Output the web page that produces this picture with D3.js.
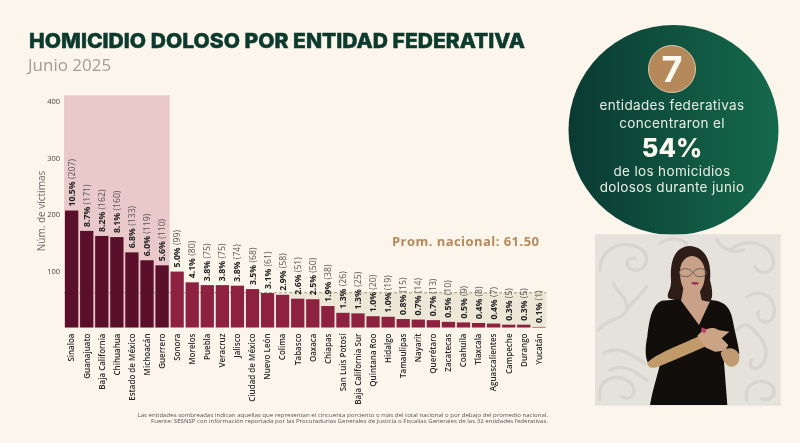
<!DOCTYPE html>
<html>
<head>
<meta charset="utf-8">
<script src="https://cdn.jsdelivr.net/npm/d3@7"></script>
<style>
  html, body { margin: 0; padding: 0; background: #fbf5ec; overflow: hidden; }
  svg { display: block; filter: blur(0.35px); }
  text { font-family: "Open Sans", sans-serif; }
  .panel text { font-family: Inter, sans-serif; }
</style>
</head>
<body>
<div id="chart"></div>
<script>
const states = ["Sinaloa", "Guanajuato", "Baja California", "Chihuahua", "Estado de México", "Michoacán", "Guerrero",
  "Sonora", "Morelos", "Puebla", "Veracruz", "Jalisco", "Ciudad de México", "Nuevo León", "Colima", "Tabasco",
  "Oaxaca", "Chiapas", "San Luis Potosí", "Baja California Sur", "Quintana Roo", "Hidalgo", "Tamaulipas", "Nayarit",
  "Querétaro", "Zacatecas", "Coahuila", "Tlaxcala", "Aguascalientes", "Campeche", "Durango", "Yucatán"];
const victims = [207, 171, 162, 160, 133, 119, 110, 99, 80, 75, 75, 74, 68, 61, 58, 51, 50, 38, 26, 25, 20, 19, 15, 14, 13, 10, 9, 8, 7, 5, 5, 1];
const shares = ["10.5%", "8.7%", "8.2%", "8.1%", "6.8%", "6.0%", "5.6%", "5.0%", "4.1%", "3.8%", "3.8%", "3.8%", "3.5%", "3.1%", "2.9%", "2.6%",
  "2.5%", "1.9%", "1.3%", "1.3%", "1.0%", "1.0%", "0.8%", "0.7%", "0.7%", "0.5%", "0.5%", "0.4%", "0.4%", "0.3%", "0.3%", "0.1%"];
const yTicks = [100, 200, 300, 400];
const nationalMean = 61.5;
const topCount = 7;       // states that add up to 54%
const belowFrom = "Tabasco"; // first state under the national mean
const panelLines = ["entidades federativas", "concentraron el", "de los homicidios", "dolosos durante junio"];
const footnotes = [
  "Las entidades sombreadas indican aquellas que representan el cincuenta porciento o más del total nacional o por debajo del promedio nacional.",
  "Fuente: SESNSP con información reportada por las Procuradurías Generales de Justicia o Fiscalías Generales de las 32 entidades federativas."
];

const svg = d3.select("#chart").append("svg").attr("width", 800).attr("height", 443);
svg.append("rect").attr("width", 800).attr("height", 443).attr("fill", "#fbf5ec");

const x = d3.scaleBand().domain(states).range([63.2, 547.3]).paddingInner(0.12).paddingOuter(0.12);
const y = d3.scaleLinear().domain([0, 400]).range([327.5, 101.5]);

// title
svg.append("text").attr("x", 29).attr("y", 47.5).attr("fill", "#0c3b2e").attr("stroke", "#0c3b2e").attr("stroke-width", 0.5)
  .style("font-family", "Inter, sans-serif").style("font-weight", 800).style("font-size", "20.5px")
  .attr("textLength", 496).attr("lengthAdjust", "spacingAndGlyphs")
  .text("HOMICIDIO DOLOSO POR ENTIDAD FEDERATIVA");
svg.append("text").attr("x", 28).attr("y", 71).attr("fill", "#a39c93").style("font-size", "17px").text("Junio 2025");

// shaded zones
const step = x.step();
const pad = (step - x.bandwidth()) / 2;
svg.append("rect")
  .attr("x", x(states[0]) - pad).attr("y", y(411))
  .attr("width", x(states[topCount - 1]) + x.bandwidth() + pad - x(states[0]) + pad)
  .attr("height", y(0) - y(411)).attr("fill", "#e9c9ca");
svg.append("rect")
  .attr("x", x(belowFrom) - pad).attr("y", y(nationalMean))
  .attr("width", x(states[states.length - 1]) + x.bandwidth() + pad - x(belowFrom) + pad)
  .attr("height", y(0) - y(nationalMean)).attr("fill", "#ece7d6");

// mean line, behind the bars
svg.append("line")
  .attr("x1", x(states[0]) - pad).attr("x2", x(states[states.length - 1]) + x.bandwidth() + pad)
  .attr("y1", y(nationalMean)).attr("y2", y(nationalMean))
  .attr("stroke", "#a3967a").attr("stroke-width", 1).attr("stroke-dasharray", "3,2");

// bars
svg.append("g").selectAll("rect").data(states).join("rect")
  .attr("x", d => x(d))
  .attr("y", (d, i) => y(victims[i]))
  .attr("width", x.bandwidth())
  .attr("height", (d, i) => y(0) - y(victims[i]))
  .attr("fill", (d, i) => i < topCount ? "#5a0f2b" : "#8f2140");

svg.append("text").attr("x", 392).attr("y", 245.5).attr("fill", "#b5895a")
  .style("font-size", "13px").style("font-weight", 700).style("letter-spacing", "0.45px")
  .text("Prom. nacional: 61.50");

// axes
const yAxis = svg.append("g").attr("transform", "translate(61,0)")
  .call(d3.axisLeft(y).tickValues(yTicks).tickSize(0).tickPadding(1));
yAxis.select(".domain").remove();
yAxis.selectAll("text").attr("fill", "#444").style("font-size", "7.5px").style("font-family", "'Open Sans', sans-serif");
svg.append("text").attr("transform", "translate(44.5,211) rotate(-90)").attr("text-anchor", "middle")
  .attr("fill", "#6b6b6b").style("font-size", "10px").text("Núm. de víctimas");

const xAxis = svg.append("g").attr("transform", "translate(0,327.5)")
  .call(d3.axisBottom(x).tickSize(0));
xAxis.select(".domain").remove();
xAxis.selectAll("text")
  .attr("transform", "rotate(-90)").attr("text-anchor", "end")
  .attr("x", -6).attr("y", 0).attr("dy", "0.35em")
  .attr("fill", "#2a2a2a").style("font-size", "8px").style("font-weight", 600)
  .style("font-family", "'Open Sans', sans-serif");

// value labels
const labels = svg.append("g").selectAll("text").data(states).join("text")
  .attr("transform", (d, i) => `translate(${x(d) + x.bandwidth() / 2},${y(victims[i]) - 4}) rotate(-90)`)
  .attr("dy", "0.35em").style("font-size", "8.7px");
labels.append("tspan").attr("fill", "#222").style("font-weight", 700).text((d, i) => shares[i]);
labels.append("tspan").attr("fill", "#5a5652").text((d, i) => ` (${victims[i]})`);

// footnote
svg.append("g").selectAll("text").data(footnotes).join("text")
  .attr("x", 548).attr("y", (d, i) => 416.5 + i * 6.6).attr("text-anchor", "end")
  .attr("fill", "#555").style("font-size", "6.1px").text(d => d);

// panel with the 54% call-out
const grad = svg.append("defs").append("linearGradient").attr("id", "panelFill");
grad.append("stop").attr("offset", "0%").attr("stop-color", "#0a3a32");
grad.append("stop").attr("offset", "100%").attr("stop-color", "#156a4c");
const panel = svg.append("g").attr("class", "panel");
panel.append("circle").attr("cx", 673.5).attr("cy", 130).attr("r", 105).attr("fill", "url(#panelFill)");
panel.append("circle").attr("cx", 672).attr("cy", 69).attr("r", 23.5).attr("fill", "#b5895a").attr("stroke", "#d8c6ae").attr("stroke-width", 1);
panel.append("text").attr("x", 672).attr("y", 82).attr("text-anchor", "middle").attr("fill", "#fdf8f0")
  .style("font-size", "36px").style("font-weight", 700).text("7");
panel.append("text").attr("x", 672).attr("y", 156.5).attr("text-anchor", "middle").attr("fill", "#fdf8f0")
  .style("font-size", "25.5px").style("font-weight", 800).text("54%");
panel.selectAll("text.line").data(panelLines).join("text").attr("class", "line")
  .attr("x", 672).attr("y", (d, i) => [110, 127.5, 175.5, 192][i]).attr("text-anchor", "middle")
  .attr("fill", "#e9ece4").style("font-size", "13.5px").style("letter-spacing", "0.35px").text(d => d);

// sign language interpreter (drawn in zoomed crop coordinates)
const signer = svg.append("g").attr("transform", "translate(590,230) scale(0.3333)");
signer.append("rect").attr("x", 15).attr("y", 13).attr("width", 557).attr("height", 514).attr("fill", "#e5e2db");
const swirls = [
  "M30,120 C30,60 90,30 140,50 C190,70 170,130 130,120 C100,110 110,80 135,85",
  "M25,300 C60,260 100,270 110,240 C115,200 80,190 70,160 M110,240 C130,210 150,200 170,170",
  "M30,510 C20,450 70,430 110,450 C150,470 130,520 95,500",
  "M40,370 C90,340 130,380 165,400 M60,420 C100,400 130,420 170,450",
  "M420,60 C470,20 540,40 550,90 C555,130 510,140 495,110",
  "M470,200 C520,170 565,210 550,260 C535,290 495,275 505,245",
  "M440,300 C470,270 480,290 500,310 C530,340 540,380 510,410 C490,425 470,405 485,390",
  "M470,510 C460,460 510,440 545,465 C565,490 540,520 515,505",
  "M210,40 C240,20 270,25 290,40 M380,30 C400,60 430,70 460,60"
];
signer.append("g").selectAll("path").data(swirls).join("path").attr("d", d => d)
  .attr("fill", "none").attr("stroke", "#d8d5cd").attr("stroke-width", 10).attr("stroke-linecap", "round");
signer.append("path").attr("fill", "#2e1d16")
  .attr("d", "M300,48 C250,50 240,100 243,150 C245,180 228,190 235,205 L275,215 L360,215 C372,200 365,170 360,150 C365,100 350,52 300,48 Z");
signer.append("path").attr("fill", "#c9a088")
  .attr("d", "M275,205 L280,175 C265,140 262,85 305,78 C345,80 352,130 340,165 L330,185 L335,210 L362,218 L327,285 L270,220 Z");
signer.append("path").attr("fill", "#120e0b")
  .attr("d", "M270,208 L327,285 L362,210 C395,212 420,225 428,270 C435,310 445,340 448,372 L410,360 L400,370 L412,525 L180,525 C190,470 205,430 210,400 L175,400 C165,385 165,350 172,320 C178,270 185,225 215,212 Z");
signer.append("path").attr("fill", "#c09a68")
  .attr("d", "M172,398 C200,370 270,345 328,318 L345,350 C300,370 240,395 200,412 C185,417 172,410 172,398 Z");
signer.append("path").attr("fill", "#c09a70")
  .attr("d", "M392,368 C410,350 435,350 447,372 C452,395 440,412 422,410 C405,405 395,385 392,368 Z");
signer.append("path").attr("fill", "#caa484")
  .attr("d", "M322,318 C335,300 365,285 385,300 L418,305 L395,325 L415,345 L405,362 L375,365 L345,352 Z");
signer.append("path").attr("fill", "#b8456a").attr("d", "M335,292 L350,298 L345,310 L333,305 Z");
signer.append("g").attr("fill", "none").attr("stroke", "#6d6055").attr("stroke-width", 3)
  .selectAll("ellipse").data([0, 1]).join("ellipse")
  .attr("cx", (d, i) => i ? 330 : 287).attr("cy", 128).attr("rx", 19).attr("ry", 12);
signer.append("ellipse").attr("cx", 315).attr("cy", 160).attr("rx", 11).attr("ry", 4).attr("fill", "#96384a");
</script>
</body>
</html>
